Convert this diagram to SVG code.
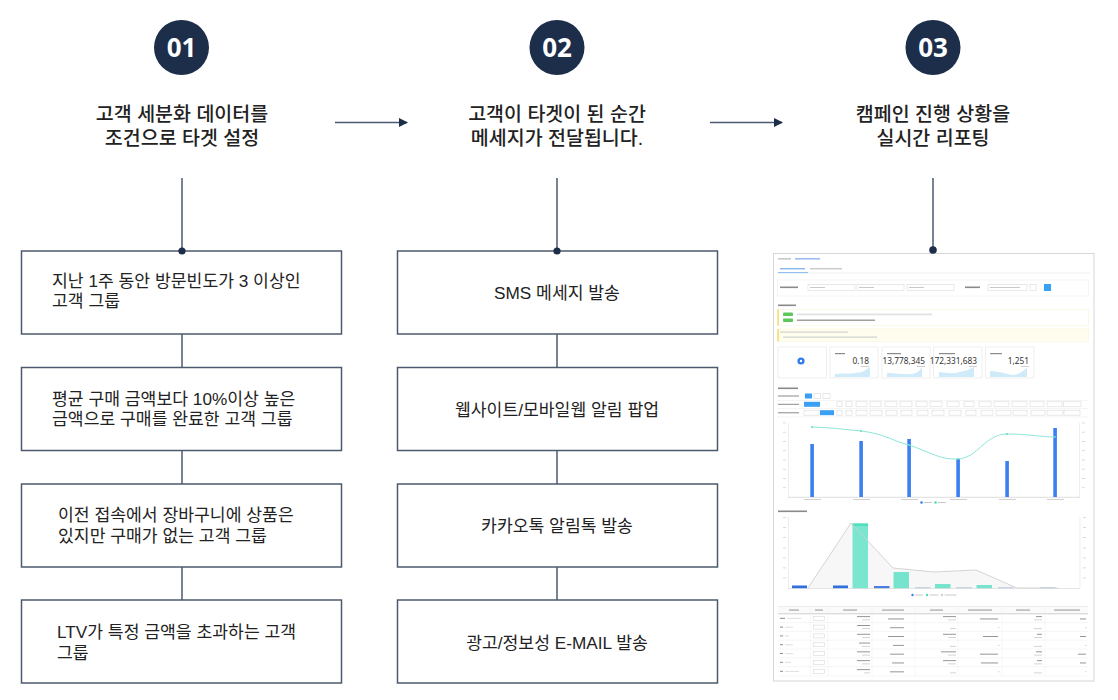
<svg xmlns="http://www.w3.org/2000/svg" width="1118" height="700" viewBox="0 0 1118 700">
<defs>
<style>
.num{fill:#1c2e4a}
.numt{font-family:"Noto Sans","Noto Sans CJK KR",sans-serif;font-weight:700;font-size:26px;fill:#fff;text-anchor:middle}
.title{font-family:"Liberation Sans","Noto Sans CJK KR",sans-serif;font-weight:500;font-size:19.5px;fill:#222;text-anchor:middle}
.box{fill:#fff;stroke:#4d5a6e;stroke-width:1.5}
.bt{font-family:"Liberation Sans","Noto Sans CJK KR",sans-serif;font-weight:400;font-size:17.2px;fill:#222}
.btc{text-anchor:middle}
.con{stroke:#4b5a70;stroke-width:1.5;fill:none}
.dot{fill:#1c2e4a}
.g1{fill:#c9c9c9}
.g2{fill:#8a8a8a}
.g3{fill:#e3e3e3}
.btn{fill:#fff;stroke:#d9d9d9;stroke-width:0.6}
.bb{fill:#3aa0f5}
.kn{font-family:"Noto Sans","Liberation Sans",sans-serif;font-size:8.3px;fill:#333;text-anchor:end}
.card{fill:#fff;stroke:#ececec;stroke-width:0.8}
.bar1{fill:#3b7ff0}
.tl{stroke:#ececec;stroke-width:0.6}
</style>
<marker id="ah" markerUnits="userSpaceOnUse" markerWidth="9" markerHeight="10" refX="8" refY="4.5" orient="auto">
<path d="M0,0 L9,4.5 L0,9 Z" fill="#1c2e4a"/>
</marker>
</defs>
<rect width="1118" height="700" fill="#fff"/>

<g id="connectors">
<line class="con" x1="335" y1="122.5" x2="407" y2="122.5" marker-end="url(#ah)"/>
<line class="con" x1="710" y1="122.5" x2="782" y2="122.5" marker-end="url(#ah)"/>
<line class="con" x1="182" y1="178" x2="182" y2="251"/>
<line class="con" x1="557" y1="178" x2="557" y2="251"/>
<line class="con" x1="933" y1="178" x2="933" y2="250"/>
<line class="con" x1="182" y1="334" x2="182" y2="367"/>
<line class="con" x1="182" y1="451" x2="182" y2="484"/>
<line class="con" x1="182" y1="567" x2="182" y2="600"/>
<line class="con" x1="557" y1="334" x2="557" y2="367"/>
<line class="con" x1="557" y1="451" x2="557" y2="484"/>
<line class="con" x1="557" y1="567" x2="557" y2="600"/>
</g>

<g id="step1">
<circle class="num" cx="181.5" cy="47.5" r="27.5"/>
<text class="numt" x="181.5" y="57">01</text>
<text class="title"><tspan x="182" y="121">고객 세분화 데이터를</tspan><tspan x="182" y="144.5">조건으로 타겟 설정</tspan></text>
</g>
<g id="step2">
<circle class="num" cx="557" cy="47.5" r="27.5"/>
<text class="numt" x="557" y="57">02</text>
<text class="title"><tspan x="557" y="121">고객이 타겟이 된 순간</tspan><tspan x="557" y="144.5">메세지가 전달됩니다.</tspan></text>
</g>
<g id="step3">
<circle class="num" cx="933" cy="47.5" r="27.5"/>
<text class="numt" x="933" y="57">03</text>
<text class="title"><tspan x="933" y="121">캠페인 진행 상황을</tspan><tspan x="933" y="144.5">실시간 리포팅</tspan></text>
</g>

<g id="seg1">
<rect class="box" x="21.5" y="251" width="320" height="83"/>
<text class="bt"><tspan x="52" y="286.5">지난 1주 동안 방문빈도가 3 이상인</tspan><tspan x="52" y="306.5">고객 그룹</tspan></text>
</g>
<g id="seg2">
<rect class="box" x="21.5" y="367.5" width="320" height="83"/>
<text class="bt"><tspan x="52" y="405">평균 구매 금액보다 10%이상 높은</tspan><tspan x="52" y="425">금액으로 구매를 완료한 고객 그룹</tspan></text>
</g>
<g id="seg3">
<rect class="box" x="21.5" y="484" width="320" height="83"/>
<text class="bt"><tspan x="58" y="521">이전 접속에서 장바구니에 상품은</tspan><tspan x="58" y="541.5">있지만 구매가 없는 고객 그룹</tspan></text>
</g>
<g id="seg4">
<rect class="box" x="21.5" y="600" width="320" height="83"/>
<text class="bt"><tspan x="57" y="638">LTV가 특정 금액을 초과하는 고객</tspan><tspan x="57" y="659">그룹</tspan></text>
</g>

<g id="msg1">
<rect class="box" x="397.5" y="251" width="320" height="83"/>
<text class="bt btc" x="557" y="298.5">SMS 메세지 발송</text>
</g>
<g id="msg2">
<rect class="box" x="397.5" y="367.5" width="320" height="83"/>
<text class="bt btc" x="557" y="415.5">웹사이트/모바일웹 알림 팝업</text>
</g>
<g id="msg3">
<rect class="box" x="397.5" y="484" width="320" height="83"/>
<text class="bt btc" x="557" y="532">카카오톡 알림톡 발송</text>
</g>
<g id="msg4">
<rect class="box" x="397.5" y="600" width="320" height="83"/>
<text class="bt btc" x="557" y="648.5">광고/정보성 E-MAIL 발송</text>
</g>

<g id="dashboard">
<rect x="773.5" y="253.5" width="320.5" height="427.5" fill="#fff" stroke="#d6d6d6" stroke-width="1"/>
<rect class="g1" x="778" y="258" width="13" height="1.6"/>
<rect x="795" y="258" width="25" height="1.6" fill="#9dbdf0"/>
<rect x="780" y="268" width="25" height="1.4" fill="#8bb7ee"/>
<rect class="g1" x="810" y="268" width="32" height="1.4"/>
<line x1="777" y1="273" x2="1090" y2="273" stroke="#e6e6e6" stroke-width="0.6"/>
<line x1="778" y1="272.6" x2="808" y2="272.6" stroke="#6aa8f0" stroke-width="0.8"/>
<rect x="777.5" y="280" width="311" height="16" fill="#fff" stroke="#eeeeee" stroke-width="0.6"/>
<rect class="g2" x="780" y="286.5" width="18" height="1.6"/>
<rect class="btn" x="808" y="284.5" width="47" height="6"/>
<rect class="btn" x="857" y="284.5" width="47" height="6"/>
<rect class="btn" x="907" y="284.5" width="47" height="6"/>
<rect class="g1" x="810" y="287" width="15" height="1"/>
<rect class="g1" x="859" y="287" width="15" height="1"/>
<rect class="g1" x="909" y="287" width="15" height="1"/>
<rect class="g2" x="965" y="286.5" width="15" height="1.6"/>
<rect class="btn" x="988" y="284.5" width="39" height="6"/>
<rect class="g1" x="990" y="287" width="30" height="1"/>
<rect class="btn" x="1030" y="284.5" width="6" height="6"/>
<rect class="bb" x="1044" y="284" width="7" height="7"/>
<rect class="g2" x="778" y="304.5" width="18" height="1.6"/>
<rect x="777.5" y="309.5" width="311" height="16" fill="#fff" stroke="#f7f2d0" stroke-width="0.5"/>
<rect x="777.5" y="309.5" width="1.2" height="16" fill="#f2d34a"/>
<rect x="783" y="312.5" width="10" height="3.5" rx="1" fill="#5cc85c"/>
<rect x="783" y="318.5" width="10" height="3.5" rx="1" fill="#5cc85c"/>
<rect x="797" y="313.5" width="135" height="1.8" fill="#e2e2e2"/>
<rect class="g2" x="797" y="319.6" width="78" height="1.2"/>
<rect x="777.5" y="329" width="311" height="12.5" fill="#fffdee" stroke="#f8f3d8" stroke-width="0.5"/>
<rect x="777.5" y="329" width="1.2" height="12.5" fill="#f2d34a"/>
<rect class="g1" x="780" y="331.6" width="68" height="1"/>
<rect class="g1" x="783" y="336.6" width="94" height="1"/>
<rect class="card" x="778" y="347" width="48.5" height="31"/>
<circle cx="801" cy="361" r="3.6" fill="#2f7de8"/>
<circle cx="801" cy="361" r="1.2" fill="#fff"/>
<rect class="card" x="830" y="347" width="48" height="31"/>
<rect class="card" x="882" y="347" width="48" height="31"/>
<rect class="card" x="933.5" y="347" width="48.5" height="31"/>
<rect class="card" x="985.5" y="347" width="48.5" height="31"/>
<rect class="g2" x="835" y="353" width="10" height="1.2"/>
<rect class="g2" x="887" y="353" width="14" height="1.2"/>
<rect class="g2" x="939" y="353" width="16" height="1.2"/>
<rect class="g2" x="990" y="353" width="12" height="1.2"/>
<text class="kn" x="869" y="363.5">0.18</text>
<text class="kn" x="925" y="363.5">13,778,345</text>
<text class="kn" x="977" y="363.5">172,331,683</text>
<text class="kn" x="1029" y="363.5">1,251</text>
<rect class="g1" x="861" y="366" width="8" height="0.9"/>
<rect class="g1" x="917" y="366" width="8" height="0.9"/>
<rect class="g1" x="969" y="366" width="8" height="0.9"/>
<rect class="g1" x="1021" y="366" width="8" height="0.9"/>
<path d="M835,374 C845,373 855,374 862,372 C866,370 868,368 870,367 L870,377 L835,377 Z" fill="#cfeaf8"/>
<path d="M887,373 C897,373 905,375 912,374 C918,373 920,370 922,367 L922,377 L887,377 Z" fill="#cfeaf8"/>
<path d="M939,372 C947,373 953,374 960,372 C966,371 970,369 974,367 L974,377 L939,377 Z" fill="#cfeaf8"/>
<path d="M990,371 C1000,371 1008,375 1014,375 C1020,374 1024,370 1027,368 L1027,377 L990,377 Z" fill="#cfeaf8"/>
<rect class="g2" x="778" y="387.5" width="20" height="1.6"/>
<line class="tl" x1="777" y1="400.5" x2="1088" y2="400.5"/>
<line class="tl" x1="777" y1="408.5" x2="1088" y2="408.5"/>
<line class="tl" x1="777" y1="417" x2="1088" y2="417"/>
<rect class="g2" x="778" y="395.5" width="21" height="1"/>
<rect class="g2" x="778" y="403.8" width="21" height="1"/>
<rect class="g2" x="778" y="412.3" width="21" height="1"/>
<rect class="bb" x="805" y="393.5" width="7" height="5"/>
<rect class="btn" x="814" y="393.5" width="6.5" height="5"/>
<rect class="btn" x="823" y="393.5" width="7" height="5"/>
<g>
<rect class="bb" x="804" y="401.8" width="16" height="5"/>
<rect class="btn" x="837" y="401.8" width="5" height="5"/>
<rect class="btn" x="846" y="401.8" width="6" height="5"/>
<rect class="btn" x="856" y="401.8" width="11" height="5"/>
<rect class="btn" x="870" y="401.8" width="11" height="5"/>
<rect class="btn" x="885" y="401.8" width="12" height="5"/>
<rect class="btn" x="900" y="401.8" width="12" height="5"/>
<rect class="btn" x="916" y="401.8" width="11" height="5"/>
<rect class="btn" x="930" y="401.8" width="12" height="5"/>
<rect class="btn" x="947" y="401.8" width="12" height="5"/>
<rect class="btn" x="964" y="401.8" width="10" height="5"/>
<rect class="btn" x="979" y="401.8" width="12" height="5"/>
<rect class="btn" x="994" y="401.8" width="15" height="5"/>
<rect class="btn" x="1012" y="401.8" width="15" height="5"/>
<rect class="btn" x="1030" y="401.8" width="14" height="5"/>
<rect class="btn" x="1047" y="401.8" width="15" height="5"/>
<rect class="btn" x="1063.5" y="401.8" width="17.5" height="5"/>
</g>
<g>
<rect class="btn" x="804" y="410.2" width="15" height="5"/>
<rect class="bb" x="820" y="410.2" width="14" height="5"/>
<rect class="btn" x="837" y="410.2" width="5" height="5"/>
<rect class="btn" x="846" y="410.2" width="6" height="5"/>
<rect class="btn" x="856" y="410.2" width="11" height="5"/>
<rect class="btn" x="870" y="410.2" width="12" height="5"/>
<rect class="btn" x="886" y="410.2" width="11" height="5"/>
<rect class="btn" x="901" y="410.2" width="11" height="5"/>
<rect class="btn" x="917" y="410.2" width="11" height="5"/>
<rect class="btn" x="932" y="410.2" width="12" height="5"/>
<rect class="btn" x="949" y="410.2" width="12" height="5"/>
<rect class="btn" x="966" y="410.2" width="10" height="5"/>
<rect class="btn" x="981" y="410.2" width="12" height="5"/>
<rect class="btn" x="996" y="410.2" width="15" height="5"/>
<rect class="btn" x="1013" y="410.2" width="14" height="5"/>
<rect class="btn" x="1031" y="410.2" width="14" height="5"/>
<rect class="btn" x="1047" y="410.2" width="16" height="5"/>
<rect class="btn" x="1064" y="410.2" width="16" height="5"/>
</g>
<line x1="788.5" y1="423" x2="788.5" y2="497" stroke="#e2e2e2" stroke-width="0.6"/>
<line x1="1079.5" y1="423" x2="1079.5" y2="497" stroke="#e2e2e2" stroke-width="0.6"/>
<line x1="788" y1="497.3" x2="1080" y2="497.3" stroke="#cfcfcf" stroke-width="0.7"/>
<g fill="#d4d4d4">
<rect x="783" y="422.5" width="3" height="0.8"/><rect x="783" y="431.8" width="3" height="0.8"/><rect x="783" y="441" width="3" height="0.8"/><rect x="783" y="450.3" width="3" height="0.8"/><rect x="783" y="459.5" width="3" height="0.8"/><rect x="783" y="468.8" width="3" height="0.8"/><rect x="783" y="478" width="3" height="0.8"/><rect x="783" y="487.3" width="3" height="0.8"/>
<rect x="1082" y="422.5" width="3" height="0.8"/><rect x="1082" y="431.8" width="3" height="0.8"/><rect x="1082" y="441" width="3" height="0.8"/><rect x="1082" y="450.3" width="3" height="0.8"/><rect x="1082" y="459.5" width="3" height="0.8"/><rect x="1082" y="468.8" width="3" height="0.8"/><rect x="1082" y="478" width="3" height="0.8"/><rect x="1082" y="487.3" width="3" height="0.8"/>
</g>
<rect class="bar1" x="810.3" y="444" width="3.6" height="53"/>
<rect class="bar1" x="859.3" y="441" width="3.6" height="56"/>
<rect class="bar1" x="907.3" y="439" width="3.6" height="58"/>
<rect class="bar1" x="956.3" y="459" width="3.6" height="38"/>
<rect class="bar1" x="1005.3" y="461" width="3.6" height="36"/>
<rect class="bar1" x="1053.3" y="428" width="3.6" height="69"/>
<path d="M812,427 C836,428 840,429 861,431 C885,434 890,440 909,445 C930,452 940,460 958,459 C978,458 985,434 1007,434 C1030,434 1040,437 1055,437" fill="none" stroke="#8de6d9" stroke-width="1"/>
<g fill="#5fd6c4"><circle cx="812" cy="427" r="0.9"/><circle cx="861" cy="431" r="0.9"/><circle cx="909" cy="445" r="0.9"/><circle cx="958" cy="459" r="0.9"/><circle cx="1007" cy="434" r="0.9"/><circle cx="1055" cy="437" r="0.9"/></g>
<g fill="#cfcfcf"><rect x="804" y="499" width="17" height="1"/><rect x="853" y="499" width="17" height="1"/><rect x="901" y="499" width="17" height="1"/><rect x="950" y="499" width="17" height="1"/><rect x="999" y="499" width="17" height="1"/><rect x="1047" y="499" width="17" height="1"/></g>
<circle cx="921.5" cy="502.5" r="1.3" fill="#3b7ff0"/>
<rect class="g1" x="924" y="502" width="8" height="1"/>
<circle cx="935.5" cy="502.5" r="1.3" fill="#4fdcbf"/>
<rect class="g1" x="938" y="502" width="8" height="1"/>
<rect class="g2" x="778" y="510.5" width="29" height="1.6"/>
<line x1="788.5" y1="517" x2="788.5" y2="588" stroke="#e2e2e2" stroke-width="0.6"/>
<line x1="1080" y1="517" x2="1080" y2="588" stroke="#e2e2e2" stroke-width="0.6"/>
<g fill="#d4d4d4">
<rect x="783" y="517" width="3" height="0.8"/><rect x="783" y="527" width="3" height="0.8"/><rect x="783" y="537" width="3" height="0.8"/><rect x="783" y="547.5" width="3" height="0.8"/><rect x="783" y="557.5" width="3" height="0.8"/><rect x="783" y="567.5" width="3" height="0.8"/><rect x="783" y="577.5" width="3" height="0.8"/>
<rect x="1083" y="517" width="3" height="0.8"/><rect x="1083" y="527" width="3" height="0.8"/><rect x="1083" y="537" width="3" height="0.8"/><rect x="1083" y="547.5" width="3" height="0.8"/><rect x="1083" y="557.5" width="3" height="0.8"/><rect x="1083" y="567.5" width="3" height="0.8"/><rect x="1083" y="577.5" width="3" height="0.8"/>
</g>
<path d="M808,588 L851,523 L893,568 L934,572 L976,570 L1017,588 L1058,588 Z" fill="#f7f7f7"/>
<rect x="792" y="585.5" width="15" height="3" fill="#2f6fe0"/>
<rect x="833" y="585.5" width="15" height="3" fill="#2f6fe0"/>
<rect x="874" y="586" width="15.5" height="2.5" fill="#4a7fe0"/>
<rect x="915" y="587" width="15.5" height="1.5" fill="#c9d3e4"/>
<rect x="956" y="587" width="16" height="1.5" fill="#c9d3e4"/>
<rect x="998" y="587" width="15.5" height="1.5" fill="#c9d3e4"/>
<rect x="1040" y="587" width="15.5" height="1.5" fill="#c9d3e4"/>
<rect x="852.5" y="523.5" width="15.5" height="65" fill="#7ae6cf"/>
<rect x="852.5" y="523.5" width="15.5" height="2.5" fill="#4fdfbd"/>
<rect x="893.5" y="572" width="15.5" height="16.5" fill="#76e4cc"/>
<rect x="935" y="584" width="15.5" height="4.5" fill="#76e4cc"/>
<rect x="976.5" y="585" width="15.5" height="3.5" fill="#76e4cc"/>
<path d="M808,588 L851,523 L893,568 L934,572 L976,570 L1017,588 L1058,588" fill="none" stroke="#cfcfcf" stroke-width="0.9"/>
<line x1="788" y1="588.5" x2="1080" y2="588.5" stroke="#d8d8d8" stroke-width="0.7"/>
<circle cx="912.5" cy="595" r="1.2" fill="#3b7ff0"/>
<rect class="g1" x="915" y="594.5" width="8" height="1"/>
<circle cx="927" cy="595" r="1.2" fill="#4fdcbf"/>
<rect class="g1" x="929.5" y="594.5" width="9" height="1"/>
<circle cx="942" cy="595" r="1.2" fill="#cfcfcf"/>
<rect class="g1" x="944.5" y="594.5" width="12" height="1"/>
<rect x="778" y="606.5" width="310" height="7" fill="#fafafa"/>
<line x1="778" y1="606.5" x2="1088" y2="606.5" stroke="#e2e2e2" stroke-width="0.6"/>
<line x1="778" y1="613.8" x2="1088" y2="613.8" stroke="#cfcfcf" stroke-width="1"/>
<g stroke="#ececec" stroke-width="0.5">
<line x1="810" y1="606.5" x2="810" y2="676"/><line x1="828" y1="606.5" x2="828" y2="676"/><line x1="872" y1="606.5" x2="872" y2="676"/><line x1="915" y1="606.5" x2="915" y2="676"/><line x1="958" y1="606.5" x2="958" y2="676"/><line x1="1002" y1="606.5" x2="1002" y2="676"/><line x1="1045" y1="606.5" x2="1045" y2="676"/>
<line x1="778" y1="622.6" x2="1088" y2="622.6"/><line x1="778" y1="631.4" x2="1088" y2="631.4"/><line x1="778" y1="640.2" x2="1088" y2="640.2"/><line x1="778" y1="649" x2="1088" y2="649"/><line x1="778" y1="657.8" x2="1088" y2="657.8"/><line x1="778" y1="666.6" x2="1088" y2="666.6"/><line x1="778" y1="676" x2="1088" y2="676"/>
</g>
<g class="g2"><rect x="789" y="609.6" width="10" height="0.9"/><rect x="815" y="609.6" width="8" height="0.9"/><rect x="843" y="609.6" width="14" height="0.9"/><rect x="882" y="609.6" width="22" height="0.9"/><rect x="930" y="609.6" width="13" height="0.9"/><rect x="968" y="609.6" width="24" height="0.9"/><rect x="1016" y="609.6" width="14" height="0.9"/><rect x="1054" y="609.6" width="26" height="0.9"/></g>
<g>
<rect class="g2" x="780" y="617.8" width="5" height="1"/><rect class="g3" x="787" y="617.8" width="14" height="1.2"/>
<rect class="g2" x="780" y="626.6" width="3" height="1"/><rect class="g3" x="785" y="626.6" width="8" height="1.2"/>
<rect class="g2" x="780" y="635.4" width="3" height="1"/><rect class="g3" x="785" y="635.4" width="4" height="1.2"/>
<rect class="g2" x="780" y="644.2" width="3" height="1"/><rect class="g3" x="785" y="644.2" width="8" height="1.2"/>
<rect class="g2" x="780" y="653" width="3" height="1"/><rect class="g3" x="785" y="653" width="8" height="1.2"/>
<rect class="g2" x="780" y="661.8" width="3" height="1"/><rect class="g3" x="785" y="661.8" width="6" height="1.2"/>
<rect class="g2" x="780" y="670.8" width="3" height="1"/><rect class="g3" x="785" y="670.8" width="14" height="1.2"/>
</g>
<g class="btn"><rect x="813.5" y="616.3" width="11" height="4"/><rect x="813.5" y="625.1" width="11" height="4"/><rect x="813.5" y="633.9" width="11" height="4"/><rect x="813.5" y="642.7" width="11" height="4"/><rect x="813.5" y="651.5" width="11" height="4"/><rect x="813.5" y="660.3" width="11" height="4"/><rect x="813.5" y="669.3" width="11" height="4"/></g>
<g class="g2">
<rect x="857" y="616.2" width="13" height="0.9"/><rect x="857" y="625" width="13" height="0.9"/><rect x="857" y="633.8" width="13" height="0.9"/><rect x="859" y="642.6" width="11" height="0.9"/><rect x="857" y="651.4" width="13" height="0.9"/><rect x="857" y="660.2" width="13" height="0.9"/><rect x="857" y="669.2" width="13" height="0.9"/>
<rect x="888" y="618.5" width="16" height="0.9"/><rect x="890" y="627.3" width="14" height="0.9"/><rect x="888" y="636.1" width="16" height="0.9"/><rect x="893" y="644.9" width="11" height="0.9"/><rect x="890" y="653.7" width="14" height="0.9"/><rect x="892" y="662.5" width="12" height="0.9"/><rect x="890" y="671.4" width="14" height="0.9"/>
<rect x="943" y="616.2" width="13" height="0.9"/><rect x="943" y="633.8" width="13" height="0.9"/><rect x="941" y="651.4" width="15" height="0.9"/><rect x="943" y="660.2" width="13" height="0.9"/>
<rect x="980" y="618.5" width="18" height="0.9"/><rect x="983" y="636.1" width="15" height="0.9"/><rect x="980" y="653.7" width="18" height="0.9"/><rect x="981" y="662.5" width="17" height="0.9"/>
<rect x="1036" y="616.2" width="6" height="0.9"/><rect x="1037" y="633.8" width="5" height="0.9"/><rect x="1036" y="651.4" width="6" height="0.9"/><rect x="1037" y="660.2" width="5" height="0.9"/>
<rect x="1080" y="618.5" width="6" height="0.9"/><rect x="1080" y="636.1" width="6" height="0.9"/><rect x="1078" y="653.7" width="8" height="0.9"/><rect x="1080" y="662.5" width="6" height="0.9"/>
</g>
<g class="g1">
<rect x="862" y="619.5" width="8" height="0.8"/><rect x="862" y="628.3" width="8" height="0.8"/><rect x="862" y="637.1" width="8" height="0.8"/><rect x="862" y="645.9" width="8" height="0.8"/><rect x="862" y="654.7" width="8" height="0.8"/><rect x="862" y="663.5" width="8" height="0.8"/><rect x="864" y="672.5" width="6" height="0.8"/>
<rect x="948" y="619.5" width="8" height="0.8"/><rect x="950" y="628.3" width="6" height="0.8"/><rect x="948" y="637.1" width="8" height="0.8"/><rect x="950" y="645.9" width="6" height="0.8"/><rect x="948" y="654.7" width="8" height="0.8"/><rect x="948" y="663.5" width="8" height="0.8"/><rect x="950" y="672.5" width="6" height="0.8"/>
<rect x="1034" y="619.5" width="8" height="0.8"/><rect x="1034" y="628.3" width="8" height="0.8"/><rect x="1034" y="637.1" width="8" height="0.8"/><rect x="1034" y="645.9" width="8" height="0.8"/><rect x="1034" y="654.7" width="8" height="0.8"/><rect x="1034" y="663.5" width="8" height="0.8"/><rect x="1034" y="672.5" width="8" height="0.8"/>
<rect x="998" y="627.3" width="1.5" height="0.8"/><rect x="998" y="644.9" width="1.5" height="0.8"/><rect x="998" y="671.4" width="1.5" height="0.8"/>
<rect x="1085" y="627.3" width="1.5" height="0.8"/><rect x="1085" y="644.9" width="1.5" height="0.8"/><rect x="1085" y="671.4" width="1.5" height="0.8"/>
</g>
</g>

<g id="dots">
<circle class="dot" cx="182" cy="251" r="3.6"/>
<circle class="dot" cx="557" cy="251" r="3.6"/>
<circle class="dot" cx="933" cy="250" r="3.8"/>
</g>
</svg>
